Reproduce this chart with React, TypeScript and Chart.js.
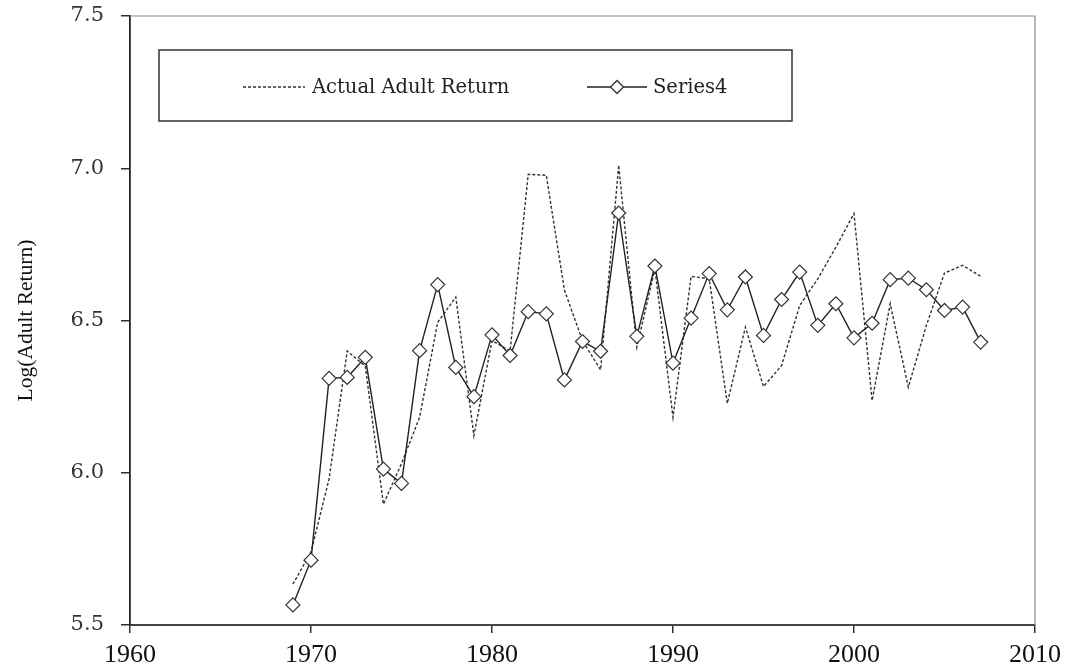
import React, { useEffect, useRef } from "react";
import { Chart, registerables } from "chart.js";

Chart.register(...registerables);

const years: number[] = [
  1969, 1970, 1971, 1972, 1973, 1974, 1975, 1976, 1977, 1978, 1979, 1980, 1981,
  1982, 1983, 1984, 1985, 1986, 1987, 1988, 1989, 1990, 1991, 1992, 1993, 1994,
  1995, 1996, 1997, 1998, 1999, 2000, 2001, 2002, 2003, 2004, 2005, 2006, 2007,
];

const actualAdultReturn: number[] = [
  5.634, 5.74, 5.98, 6.4, 6.35, 5.897, 6.03, 6.182, 6.494, 6.577, 6.122, 6.434, 6.4,
  6.98, 6.977, 6.6, 6.434, 6.338, 7.01, 6.412, 6.67, 6.182, 6.645, 6.637, 6.228, 6.478,
  6.283, 6.352, 6.549, 6.637, 6.741, 6.851, 6.237, 6.555, 6.281, 6.484, 6.656, 6.681, 6.645,
];

const series4: number[] = [
  5.566, 5.713, 6.31, 6.313, 6.379, 6.012, 5.965, 6.401, 6.618, 6.346, 6.25, 6.453, 6.385,
  6.529, 6.522, 6.305, 6.431, 6.399, 6.853, 6.448, 6.679, 6.36, 6.508, 6.654, 6.535, 6.643,
  6.451, 6.569, 6.659, 6.484, 6.555, 6.443, 6.491, 6.634, 6.639, 6.601, 6.533, 6.544, 6.429,
];

const seriesLabels: string[] = ["Actual Adult Return", "Series4"];
const xTicks: number[] = [1960, 1970, 1980, 1990, 2000, 2010];
const yTicks: number[] = [5.5, 6.0, 6.5, 7.0, 7.5];
const yTitle = "Log(Adult Return)";

const framePlugin = {
  id: "frameAndLegend",
  afterDatasetsDraw(chart: any) {
    const { ctx, chartArea } = chart;
    ctx.save();
    // top and right frame lines
    ctx.strokeStyle = "#8a8a8a";
    ctx.lineWidth = 1.2;
    ctx.beginPath();
    ctx.moveTo(chartArea.left, chartArea.top);
    ctx.lineTo(chartArea.right, chartArea.top);
    ctx.lineTo(chartArea.right, chartArea.bottom);
    ctx.stroke();

    // legend box
    const bx = 159, by = 50, bw = 633, bh = 71;
    ctx.fillStyle = "#ffffff";
    ctx.fillRect(bx, by, bw, bh);
    ctx.strokeStyle = "#333333";
    ctx.lineWidth = 1.5;
    ctx.strokeRect(bx, by, bw, bh);

    const ly = 87;
    ctx.font = "19.5px 'DejaVu Serif'";
    ctx.textBaseline = "middle";
    ctx.fillStyle = "#222222";

    // item 1: dashed
    ctx.strokeStyle = "#333333";
    ctx.lineWidth = 1.3;
    ctx.setLineDash([3, 2]);
    ctx.beginPath();
    ctx.moveTo(243, ly);
    ctx.lineTo(305, ly);
    ctx.stroke();
    ctx.setLineDash([]);
    ctx.fillText(chart.data.datasets[1].label, 312, ly + 1);

    // item 2: solid with diamond
    ctx.strokeStyle = "#222222";
    ctx.beginPath();
    ctx.moveTo(587, ly);
    ctx.lineTo(647, ly);
    ctx.stroke();
    const cx = 617, r = 6.5;
    ctx.beginPath();
    ctx.moveTo(cx, ly - r);
    ctx.lineTo(cx + r, ly);
    ctx.lineTo(cx, ly + r);
    ctx.lineTo(cx - r, ly);
    ctx.closePath();
    ctx.fillStyle = "#ffffff";
    ctx.fill();
    ctx.strokeStyle = "#333333";
    ctx.stroke();
    ctx.fillStyle = "#222222";
    ctx.fillText(chart.data.datasets[0].label, 653, ly + 1);
    ctx.restore();
  },
};

export default function App() {
  const canvasRef = useRef<HTMLCanvasElement | null>(null);

  useEffect(() => {
    if (!canvasRef.current) return;
    const chart = new Chart(canvasRef.current, {
      type: "line",
      data: {
        datasets: [
          {
            label: seriesLabels[1],
            data: years.map((y, i) => ({ x: y, y: series4[i] })),
            borderColor: "#222222",
            borderWidth: 1.4,
            pointStyle: "rectRot",
            pointRadius: 7,
            pointBackgroundColor: "#ffffff",
            pointBorderColor: "#333333",
            pointBorderWidth: 1.2,
            tension: 0,
            order: 0,
          },
          {
            label: seriesLabels[0],
            data: years.map((y, i) => ({ x: y, y: actualAdultReturn[i] })),
            borderColor: "#333333",
            borderWidth: 1.4,
            borderDash: [3, 2],
            pointRadius: 0,
            tension: 0,
            order: 1,
          },
        ],
      },
      options: {
        animation: false,
        responsive: true,
        maintainAspectRatio: false,
        layout: { padding: { left: 0, top: 16, right: 37, bottom: 0 } },
        plugins: {
          legend: { display: false },
          tooltip: { enabled: false },
        },
        scales: {
          x: {
            type: "linear",
            min: xTicks[0],
            max: xTicks[xTicks.length - 1],
            afterBuildTicks: (scale: any) => {
              scale.ticks = xTicks.map((v) => ({ value: v }));
            },
            afterFit: (scale: any) => {
              scale.height = 45;
              scale.paddingLeft = 0;
              scale.paddingRight = 0;
            },
            border: { display: true, color: "#444444", width: 2 },
            grid: {
              drawOnChartArea: false,
              drawTicks: true,
              tickLength: 8,
              color: "#333333",
              lineWidth: 1.5,
            },
            ticks: {
              color: "#111111",
              padding: 7,
              font: { family: "'Liberation Serif'", size: 26 },
              maxRotation: 0,
              callback: (v: any) => String(v),
            },
          },
          y: {
            type: "linear",
            min: yTicks[0],
            max: yTicks[yTicks.length - 1],
            afterBuildTicks: (scale: any) => {
              scale.ticks = yTicks.map((v) => ({ value: v }));
            },
            afterFit: (scale: any) => {
              scale.width = 130;
              scale.paddingTop = 0;
              scale.paddingBottom = 0;
            },
            border: { display: true, color: "#222222", width: 1.8 },
            grid: {
              drawOnChartArea: false,
              drawTicks: true,
              tickLength: 9,
              color: "#333333",
              lineWidth: 1.5,
            },
            ticks: {
              color: "#333333",
              padding: 17,
              font: { family: "'DejaVu Serif'", size: 21 },
              callback: (v: any) => Number(v).toFixed(1),
            },
            title: {
              display: true,
              text: yTitle,
              color: "#111111",
              font: { family: "'Liberation Serif'", size: 21.5 },
              padding: { top: 13, bottom: 0 },
            },
          },
        },
      },
      plugins: [framePlugin],
    });
    return () => chart.destroy();
  }, []);

  return (
    <div
      style={{
        position: "absolute",
        left: 0,
        top: 0,
        width: 1072,
        height: 670,
        background: "#ffffff",
      }}
    >
      <canvas ref={canvasRef} />
    </div>
  );
}
